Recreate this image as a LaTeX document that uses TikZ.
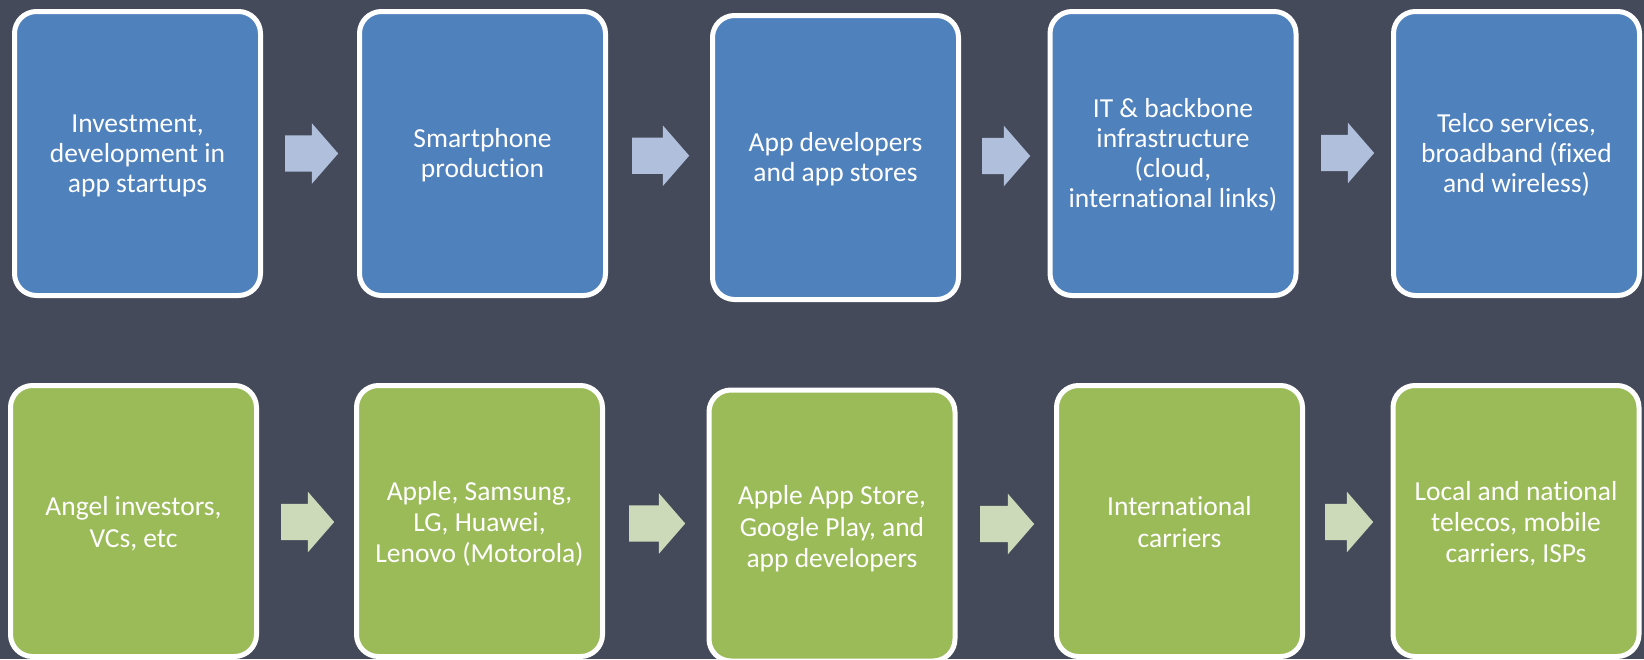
\documentclass[tikz,border=0pt]{standalone}
\usepackage{fontspec}
\setmainfont{Carlito}[Ligatures={NoCommon}]
\usetikzlibrary{shapes.arrows}
\definecolor{bgc}{RGB}{68,74,90}
\definecolor{boxblue}{RGB}{79,129,189}
\definecolor{boxgreen}{RGB}{155,187,89}
\definecolor{arrblue}{RGB}{176,191,219}
\definecolor{arrgreen}{RGB}{204,218,185}
% struts fixing the text block extents (first line height / last line depth)
\newcommand{\rowTa}{\rule{0pt}{26pt}}
\newcommand{\rowTz}{\rule[-8.4pt]{0pt}{8.4pt}}
\newcommand{\rowBa}{\rule{0pt}{29pt}}
\newcommand{\rowBz}{\rule[-8pt]{0pt}{8pt}}
\tikzset{
  box/.style={draw=white, line width=5pt, rounded corners=22pt, text=white,
    align=center, inner sep=0pt},
  bluebox/.style={box, fill=boxblue, minimum width=246pt, minimum height=284pt,
    font=\fontsize{27.5}{30}\selectfont},
  greenbox/.style={box, fill=boxgreen, minimum width=246pt, minimum height=271pt,
    font=\fontsize{27.5}{31.2}\selectfont},
  blockarr/.style={single arrow, draw=none, inner xsep=0pt, inner ysep=18pt,
    single arrow head extend=12pt, single arrow tip angle=98, minimum width=0pt,
    anchor=tail},
  bluearr/.style={blockarr, fill=arrblue},
  greenarr/.style={blockarr, fill=arrgreen}
}
\begin{document}
\begin{tikzpicture}[x=1pt,y=-1pt]
\useasboundingbox (0,0) rectangle (1644,659);
\fill[bgc] (0,0) rectangle (1644,659);
% top row
\node[bluebox] (t1) at (137.5,153.5) {\rowTa Investment,\\development in\\app startups\rowTz};
\node[bluebox] (t2) at (482.5,153.5) {\rowTa Smartphone\\production\rowTz};
\node[bluebox] (t3) at (835.5,157.5) {\rowTa App developers\\and app stores\rowTz};
\node[bluebox] (t4) at (1173,153.5) {\rowTa IT \& backbone\\infrastructure\\(cloud,\\international links)\rowTz};
\node[bluebox] (t5) at (1516.5,153.5) {\rowTa Telco services,\\broadband (fixed\\and wireless)\rowTz};
\node[bluearr, minimum height=53pt] (a1) at (285,153.5) {};
\node[bluearr, minimum height=57pt] (a2) at (632,155.7) {};
\node[bluearr, minimum height=48pt] (a3) at (982,156) {};
\node[bluearr, minimum height=53pt] (a4) at (1321,153) {};
% bottom row
\node[greenbox] (b1) at (133.5,521) {\rowBa Angel investors,\\VCs, etc\rowBz};
\node[greenbox] (b2) at (479.5,521) {\rowBa Apple, Samsung,\\LG, Huawei,\\Lenovo (Motorola)\rowBz};
\node[greenbox] (b3) at (832,525.5) {\rowBa Apple App Store,\\Google Play, and\\app developers\rowBz};
\node[greenbox] (b4) at (1179.5,521) {\rowBa International\\carriers\rowBz};
\node[greenbox] (b5) at (1516,521) {\rowBa Local and national\\telecos, mobile\\carriers, ISPs\rowBz};
\node[greenarr, minimum height=53pt] (c1) at (281,522) {};
\node[greenarr, minimum height=56pt] (c2) at (629,523.5) {};
\node[greenarr, minimum height=54pt] (c3) at (980,524) {};
\node[greenarr, minimum height=48pt] (c4) at (1325,522) {};
\end{tikzpicture}
\end{document}
